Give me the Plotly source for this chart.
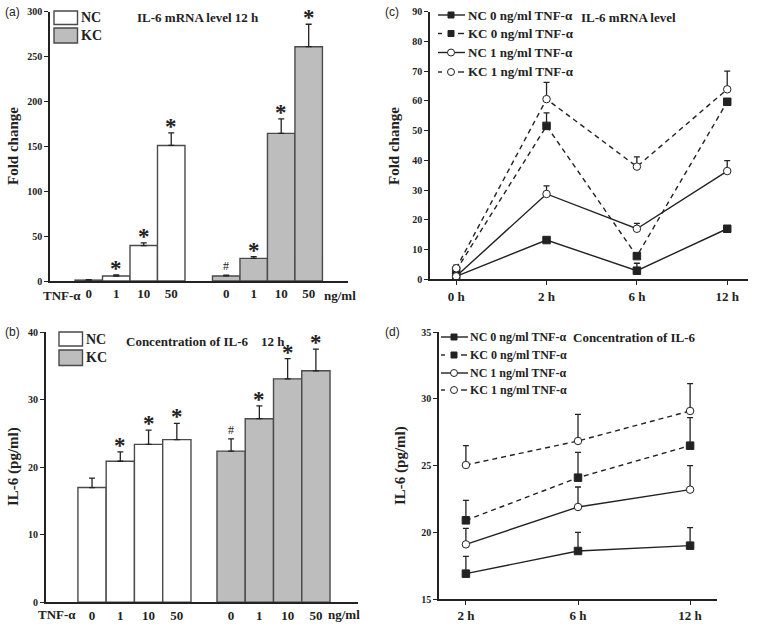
import plotly.graph_objects as go

# ---------------- data ----------------
doses = ["0", "1", "10", "50"]

a_nc = [1.0, 5.5, 39.5, 151.0]
a_nc_err = [0.5, 1.2, 3.0, 14.0]
a_kc = [5.6, 25.2, 164.5, 261.0]
a_kc_err = [0.8, 2.0, 16.0, 25.0]
a_nc_mark = ["", "*", "*", "*"]
a_kc_mark = ["#", "*", "*", "*"]

b_nc = [17.0, 20.9, 23.4, 24.1]
b_nc_err = [1.4, 1.4, 2.1, 2.4]
b_kc = [22.4, 27.2, 33.1, 34.3]
b_kc_err = [1.8, 1.9, 3.0, 3.2]
b_nc_mark = ["", "*", "*", "*"]
b_kc_mark = ["#", "*", "*", "*"]

c_times = ["0 h", "2 h", "6 h", "12 h"]
c_nc0 = [1.0, 13.2, 2.9, 17.0]
c_nc0_err = [0.3, 0.8, 2.5, 0.8]
c_kc0 = [3.0, 51.6, 7.8, 59.7]
c_kc0_err = [0.5, 4.4, 0.8, 1.0]
c_nc1 = [1.0, 28.7, 17.0, 36.4]
c_nc1_err = [0.3, 2.7, 1.8, 3.5]
c_kc1 = [3.7, 60.6, 37.9, 63.9]
c_kc1_err = [1.1, 5.6, 3.3, 6.1]

d_times = ["2 h", "6 h", "12 h"]
d_nc0 = [16.9, 18.6, 19.0]
d_nc0_err = [1.3, 1.4, 1.35]
d_kc0 = [20.9, 24.1, 26.5]
d_kc0_err = [1.5, 1.9, 2.1]
d_nc1 = [19.1, 21.9, 23.2]
d_nc1_err = [1.2, 1.5, 1.8]
d_kc1 = [25.05, 26.85, 29.1]
d_kc1_err = [1.45, 2.0, 2.05]

series_names = ["NC 0 ng/ml TNF-α", "KC 0 ng/ml TNF-α", "NC 1 ng/ml TNF-α", "KC 1 ng/ml TNF-α"]

# ---------------- style ----------------
W, H = 760, 628
SERIF = "Liberation Serif"
SANS = "Liberation Sans"
INK = "#222222"
EDGE = "#4a4a4a"
GRAY = "#bdbdbd"

fig = go.Figure()

def px_x(p):
    return p / W

def px_y(p):
    return 1 - p / H

annotations = []
shapes = []

def bar_panel(xa, ya, nc, nc_err, kc, kc_err, nc_mark, kc_mark, kc_offset):
    nc_x = list(range(len(nc)))
    kc_x = [i + kc_offset for i in range(len(kc))]
    for xs, vals, errs, fill in [(nc_x, nc, nc_err, "white"), (kc_x, kc, kc_err, GRAY)]:
        fig.add_trace(go.Bar(
            x=xs, y=vals, width=1.0, xaxis=xa, yaxis=ya, showlegend=False,
            marker=dict(color=fill, line=dict(color=EDGE, width=1.4)),
            error_y=dict(type="data", symmetric=False, array=errs,
                         arrayminus=[0] * len(errs), color=INK, thickness=1.3, width=3),
        ))
    for xs, vals, errs, marks in [(nc_x, nc, nc_err, nc_mark), (kc_x, kc, kc_err, kc_mark)]:
        for x, v, e, m in zip(xs, vals, errs, marks):
            if not m:
                continue
            annotations.append(dict(
                x=x, y=v + e, xref=xa, yref=ya, text=m, showarrow=False,
                yanchor="bottom", yshift=(-8 if m == "*" else 0),
                font=dict(family=SERIF, size=(23 if m == "*" else 12), color=INK,
                          weight=("bold" if m == "*" else "normal")),
            ))
    return nc_x + kc_x

def line_panel(xa, ya, times, groups):
    for (vals, errs, dashed, filled), name in zip(groups, series_names):
        fig.add_trace(go.Scatter(
            x=times, y=vals, xaxis=xa, yaxis=ya, name=name, mode="lines+markers",
            line=dict(color=INK, width=1.4, dash=("5px,4px" if dashed else "solid")),
            marker=dict(symbol=("square" if filled else "circle"), size=7.5,
                        color=(INK if filled else "white"),
                        line=dict(color=INK, width=1)),
            error_y=dict(type="data", symmetric=False, array=errs,
                         arrayminus=[0] * len(errs), color=INK, thickness=1.3, width=3),
            showlegend=False,
        ))

# panel (a)
a_pos = bar_panel("x", "y", a_nc, a_nc_err, a_kc, a_kc_err, a_nc_mark, a_kc_mark, 5.0)
# panel (b)
b_pos = bar_panel("x2", "y2", b_nc, b_nc_err, b_kc, b_kc_err, b_nc_mark, b_kc_mark, 4.92)
# panel (c)
line_panel("x3", "y3", c_times, [
    (c_nc0, c_nc0_err, False, True),
    (c_kc0, c_kc0_err, True, True),
    (c_nc1, c_nc1_err, False, False),
    (c_kc1, c_kc1_err, True, False),
])
# panel (d)
line_panel("x4", "y4", d_times, [
    (d_nc0, d_nc0_err, False, True),
    (d_kc0, d_kc0_err, True, True),
    (d_nc1, d_nc1_err, False, False),
    (d_kc1, d_kc1_err, True, False),
])

# ---------------- axes ----------------
tickfont = dict(family=SERIF, size=10, color=INK, weight="bold")
xtickfont = dict(family=SERIF, size=13, color=INK, weight="bold")

def yax(domain, rng, dtick, anchor):
    return dict(domain=domain, range=rng, dtick=dtick, anchor=anchor, automargin=False,
                showline=True, linecolor=INK, linewidth=1.5, ticks="outside",
                ticklen=4, tickwidth=1.2, tickcolor=INK, tickfont=tickfont,
                showgrid=False, zeroline=False, tickformat="d")

def xax_bar(domain, rng, pos, anchor):
    return dict(domain=domain, range=rng, anchor=anchor, tickmode="array", automargin=False,
                tickvals=pos, ticktext=doses + doses, ticks="", showline=True,
                linecolor=INK, linewidth=1.5, showgrid=False, zeroline=False,
                tickfont=xtickfont)

def xax_line(domain, rng, anchor):
    return dict(domain=domain, range=rng, anchor=anchor, type="category", automargin=False,
                ticks="outside", ticklen=4, tickwidth=1.2, tickcolor=INK,
                showline=True, linecolor=INK, linewidth=1.5, showgrid=False,
                zeroline=False, tickfont=xtickfont)

layout = dict(
    width=W, height=H, margin=dict(l=0, r=0, t=0, b=0, pad=0, autoexpand=False),
    paper_bgcolor="white", plot_bgcolor="white", barmode="overlay",
    xaxis=xax_bar([px_x(50), px_x(348)], [-1.41, 9.43], a_pos, "y"),
    yaxis=yax([px_y(281), px_y(11.7)], [0, 300], 50, "x"),
    xaxis2=xax_bar([px_x(45.7), px_x(358)], [-1.64, 9.41], b_pos, "y2"),
    yaxis2=yax([px_y(602.3), px_y(332.3)], [0, 40], 10, "x2"),
    xaxis3=xax_line([px_x(430), px_x(748)], [-0.29, 3.23], "y3"),
    yaxis3=yax([px_y(279.3), px_y(11.7)], [0, 90], 10, "x3"),
    xaxis4=xax_line([px_x(439), px_x(717)], [-0.24, 2.24], "y4"),
    yaxis4=yax([px_y(599), px_y(332.3)], [15, 35], 5, "x4"),
    showlegend=False,
)

# ---------------- text ----------------
def txt(x, y, s, size=13, family=SERIF, xanchor="center", angle=0, bold=True):
    annotations.append(dict(x=x, y=y, xref="paper", yref="paper", text=s, showarrow=False,
                            xanchor=xanchor, yanchor="middle", textangle=angle, borderpad=0,
                            font=dict(family=family, size=size, color=INK,
                                      weight=("bold" if bold else "normal"))))

# panel labels
for lab, xp, yp in [("(a)", 12, 12), ("(b)", 12, 332), ("(c)", 392, 12), ("(d)", 392, 332)]:
    txt(px_x(xp), px_y(yp), lab, size=12, family=SANS, bold=False)

# titles
txt(px_x(198), px_y(18), "IL-6 mRNA level 12 h", size=13)
txt(px_x(205), px_y(341), "Concentration of IL-6&nbsp;&nbsp;&nbsp;&nbsp;12 h", size=13)
txt(px_x(580), px_y(17), "IL-6 mRNA level", size=13, xanchor="left")
txt(px_x(572), px_y(337), "Concentration of IL-6", size=13, xanchor="left")

# y-axis titles
txt(px_x(13), px_y(146), "Fold change", size=15, angle=-90)
txt(px_x(13), px_y(467), "IL-6 (pg/ml)", size=15, angle=-90)
txt(px_x(394), px_y(146), "Fold change", size=15, angle=-90)
txt(px_x(401), px_y(466), "IL-6 (pg/ml)", size=15, angle=-90)

# TNF-α / ng/ml labels on bar panels
txt(px_x(62), px_y(295), "TNF-α", size=13)
txt(px_x(340), px_y(295), "ng/ml", size=13)
txt(px_x(57), px_y(614), "TNF-α", size=13)
txt(px_x(344), px_y(614), "ng/ml", size=13)

# bar legends
for (y0, y1, fill, name, x0) in [(11, 24.5, "white", "NC", 54), (28, 43, GRAY, "KC", 54),
                                  (332, 346, "white", "NC", 59), (350, 365.5, GRAY, "KC", 59)]:
    shapes.append(dict(type="rect", xref="paper", yref="paper",
                       x0=px_x(x0), x1=px_x(x0 + 23.5), y0=px_y(y1), y1=px_y(y0),
                       fillcolor=fill, line=dict(color=EDGE, width=1.4)))
    txt(px_x(x0 + 26), px_y((y0 + y1) / 2), name, size=14, xanchor="left")

# line legends
def line_legend(x0, ys, size, gap):
    for i, (yy, name) in enumerate(zip(ys, series_names)):
        dashed = i in (1, 3)
        filled = i in (0, 1)
        if dashed:
            for a, b in [(x0, x0 + 4), (x0 + 20, x0 + 26)]:
                shapes.append(dict(type="line", xref="paper", yref="paper",
                                   x0=px_x(a), x1=px_x(b), y0=px_y(yy), y1=px_y(yy),
                                   line=dict(color=INK, width=1.4)))
        else:
            shapes.append(dict(type="line", xref="paper", yref="paper",
                               x0=px_x(x0), x1=px_x(x0 + 27), y0=px_y(yy), y1=px_y(yy),
                               line=dict(color=INK, width=1.4)))
        cx = x0 + 13
        if filled:
            shapes.append(dict(type="rect", xref="paper", yref="paper",
                               x0=px_x(cx - 3), x1=px_x(cx + 3), y0=px_y(yy + 3), y1=px_y(yy - 3),
                               fillcolor=INK, line=dict(color=INK, width=1)))
        else:
            shapes.append(dict(type="circle", xref="paper", yref="paper",
                               x0=px_x(cx - 3.5), x1=px_x(cx + 3.5), y0=px_y(yy + 3.5), y1=px_y(yy - 3.5),
                               fillcolor="white", line=dict(color=INK, width=1)))
        txt(px_x(x0 + gap), px_y(yy), name, size=size, xanchor="left")

line_legend(438, [15, 33.5, 52.5, 72], 13, 29)
line_legend(441, [337, 355, 373, 390], 12, 28)

layout["annotations"] = annotations
layout["shapes"] = shapes
fig.update_layout(**layout)
fig.write_html("out.html", config={"displayModeBar": False},
               post_script="document.body.style.margin='0';document.body.style.overflow='hidden';")
